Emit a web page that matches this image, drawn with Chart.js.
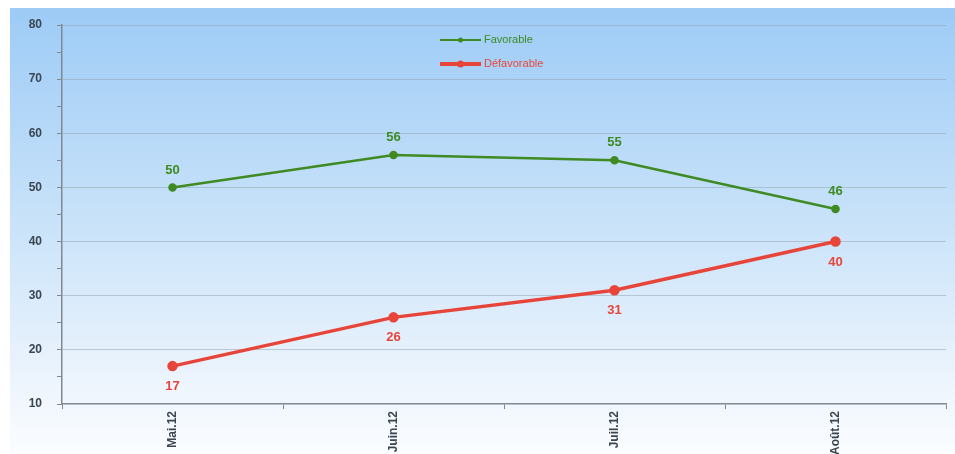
<!DOCTYPE html>
<html>
<head>
<meta charset="utf-8">
<script src="https://cdn.jsdelivr.net/npm/chart.js@4/dist/chart.umd.min.js"></script>
<style>
  html, body { margin: 0; padding: 0; background: #ffffff; overflow: hidden; }
  #wrap { position: relative; width: 955px; height: 454px; }
</style>
</head>
<body>
<div id="wrap"><canvas id="c" width="955" height="454"></canvas></div>
<script>
// Months and opinion shares (%)
const months = ['Mai.12', 'Juin.12', 'Juil.12', 'Août.12'];
const favorable = [50, 56, 55, 46];
const defavorable = [17, 26, 31, 40];
const seriesNames = ['Favorable', 'Défavorable'];

const GREEN = '#3f8a22';
const RED = '#e8453a';
const AXIS_TEXT = '#3a4552';

// Sky-blue panel behind the plot
const panelBackground = {
  id: 'panelBackground',
  beforeDraw(chart) {
    const { ctx, width, height } = chart;
    ctx.save();
    const g = ctx.createLinearGradient(0, 8, 0, height);
    g.addColorStop(0, '#9dcbf6');
    g.addColorStop(0.45, '#c6e1f9');
    g.addColorStop(0.85, '#eef5fd');
    g.addColorStop(1, '#fbfdff');
    ctx.fillStyle = g;
    ctx.fillRect(10, 8, width - 10, height - 8);
    ctx.restore();
  }
};

// Value labels: above the green points, below the red ones
const valueLabels = {
  id: 'valueLabels',
  afterDatasetsDraw(chart) {
    const { ctx } = chart;
    ctx.save();
    ctx.font = 'bold 13px "Liberation Sans", Arial, sans-serif';
    ctx.textAlign = 'center';
    chart.data.datasets.forEach((ds, i) => {
      const meta = chart.getDatasetMeta(i);
      meta.data.forEach((pt, j) => {
        ctx.fillStyle = ds.borderColor;
        if (i === 0) {
          ctx.textBaseline = 'bottom';
          ctx.fillText(String(ds.data[j]), pt.x, pt.y - 11);
        } else {
          ctx.textBaseline = 'top';
          ctx.fillText(String(ds.data[j]), pt.x, pt.y + 14);
        }
      });
    });
    ctx.restore();
  }
};

// Stacked legend in the upper middle of the plot
const stackedLegend = {
  id: 'stackedLegend',
  afterDraw(chart) {
    const { ctx } = chart;
    ctx.save();
    ctx.font = '11px "Liberation Sans", Arial, sans-serif';
    ctx.textBaseline = 'middle';
    ctx.textAlign = 'left';
    const x0 = 440, x1 = 481;
    chart.data.datasets.forEach((ds, i) => {
      const y = 40 + i * 24;
      ctx.strokeStyle = ds.borderColor;
      ctx.lineWidth = i === 0 ? 2 : 4;
      ctx.beginPath();
      ctx.moveTo(x0, y);
      ctx.lineTo(x1, y);
      ctx.stroke();
      ctx.fillStyle = ds.borderColor;
      ctx.beginPath();
      ctx.arc((x0 + x1) / 2, y, i === 0 ? 2.5 : 3.5, 0, Math.PI * 2);
      ctx.fill();
      ctx.fillText(ds.label, x1 + 3, y);
    });
    ctx.restore();
  }
};

new Chart(document.getElementById('c'), {
  type: 'line',
  data: {
    labels: months,
    datasets: [
      {
        label: seriesNames[0],
        data: favorable,
        borderColor: GREEN,
        backgroundColor: GREEN,
        borderWidth: 2.5,
        pointRadius: 3,
        pointBackgroundColor: GREEN,
        tension: 0
      },
      {
        label: seriesNames[1],
        data: defavorable,
        borderColor: RED,
        backgroundColor: RED,
        borderWidth: 3.5,
        pointRadius: 3.5,
        pointBackgroundColor: RED,
        tension: 0
      }
    ]
  },
  options: {
    responsive: false,
    animation: false,
    layout: { padding: { left: 10, top: 25, right: 9, bottom: 0 } },
    plugins: {
      legend: { display: false },
      tooltip: { enabled: false }
    },
    scales: {
      x: {
        offset: true,
        afterFit(scale) { scale.height = 50; },
        grid: {
          offset: true,
          drawOnChartArea: false,
          color: '#808890',
          tickLength: 5
        },
        border: { color: '#808890', width: 1.5 },
        ticks: {
          minRotation: 90,
          maxRotation: 90,
          padding: 2,
          color: AXIS_TEXT,
          font: { family: '"Liberation Sans", Arial, sans-serif', size: 12, weight: 'bold' }
        }
      },
      y: {
        min: 10,
        max: 80,
        afterFit(scale) { scale.width = 52; },
        ticks: {
          stepSize: 5,
          padding: 15,
          color: AXIS_TEXT,
          font: { family: '"Liberation Sans", Arial, sans-serif', size: 12, weight: 'bold' },
          callback: (v) => (v % 10 === 0 ? v : '')
        },
        grid: {
          color: (c) => (c.tick && c.tick.value % 10 === 0 && c.tick.value !== 10 ? 'rgba(150,165,180,0.55)' : 'rgba(0,0,0,0)'),
          tickColor: '#808890',
          tickLength: 5
        },
        border: { color: '#808890', width: 1.5 }
      }
    }
  },
  plugins: [panelBackground, valueLabels, stackedLegend]
});
</script>
</body>
</html>
